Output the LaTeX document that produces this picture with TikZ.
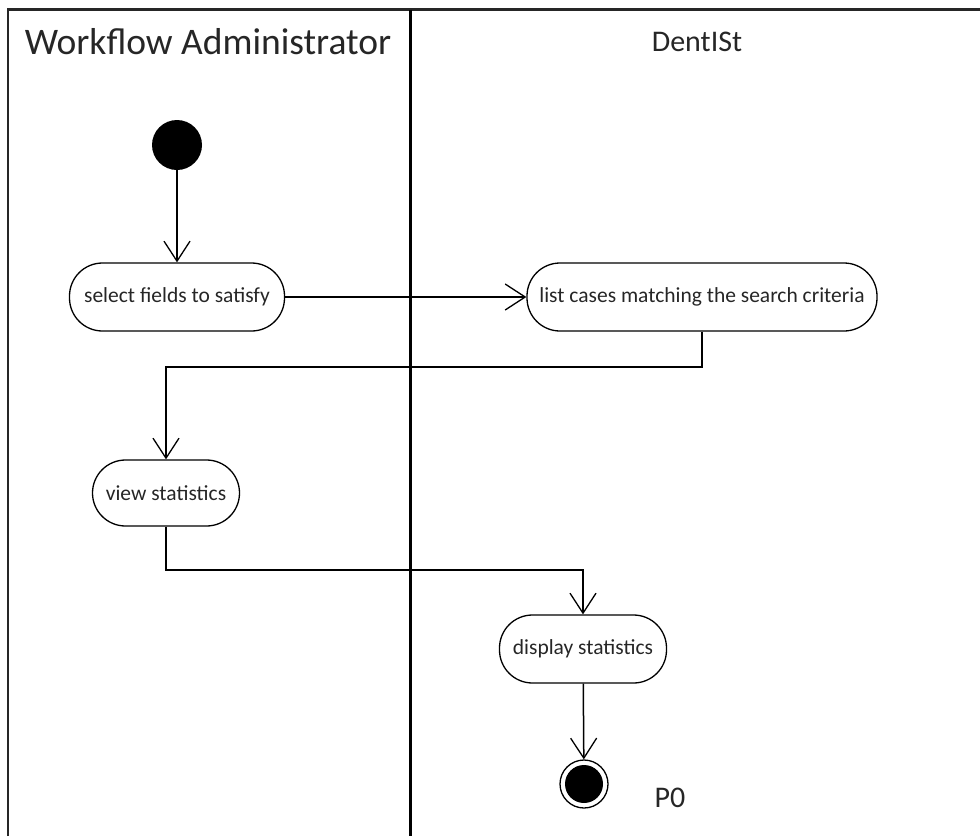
\documentclass[tikz,border=0pt]{standalone}
\usepackage{fontspec}
\setmainfont{Carlito}
\usetikzlibrary{arrows.meta}
\begin{document}
\begin{tikzpicture}[x=1pt,y=-1pt,
  lane/.style={line width=2.5pt,draw=black!85},
  divider/.style={line width=3pt,draw=black},
  action/.style={draw,line width=1.3pt,rounded corners=33pt,minimum height=68pt,
    inner sep=0pt,font=\fontsize{21.5}{25}\selectfont,text=black!85},
  flow/.style={line width=1.5pt,-{Straight Barb[length=20pt,width=26pt,line width=1.3pt]}},
  link/.style={line width=1.5pt}]
\useasboundingbox (0,0) rectangle (980,836);
% swimlane frame
\draw[lane] (8,836) -- (8,9.5) -- (980,9.5);
\draw[divider] (410,9.5) -- (410,836);
\node[font=\fontsize{37.5}{44}\selectfont,text=black!85] (lane1) at (208,42) {Workflow Administrator};
\node[font=\fontsize{30}{36}\selectfont,text=black!85] (lane2) at (697,42) {DentISt};
% initial and final states
\node[circle,fill=black,minimum size=50pt,inner sep=0pt] (start) at (177,145) {};
\node[circle,draw,line width=1.3pt,minimum size=48pt,inner sep=0pt] (stop) at (584,784) {};
\node[circle,fill=black,minimum size=38pt,inner sep=0pt] at (stop) {};
\node[font=\fontsize{30}{36}\selectfont,text=black!85] (p0) at (670,798) {P0};
% actions
\node[action,minimum width=215pt] (select) at (177,297) {select fields to satisfy};
\node[action,minimum width=350pt] (list) at (702,297) {list cases matching the search criteria};
\node[action,minimum width=147pt,minimum height=66pt] (view) at (166,493) {view statistics};
\node[action,minimum width=167pt] (display) at (583,649) {display statistics};
% control flow
\draw[flow] (start) -- (select);
\draw[flow] (select) -- (list);
\draw[flow] (list.south) -- (list.south |- 0,367) -| (view.north);
\draw[flow] (view.south) -- (view.south |- 0,570) -| (display.north);
\draw[flow] (display) -- (stop);
\end{tikzpicture}
\end{document}
